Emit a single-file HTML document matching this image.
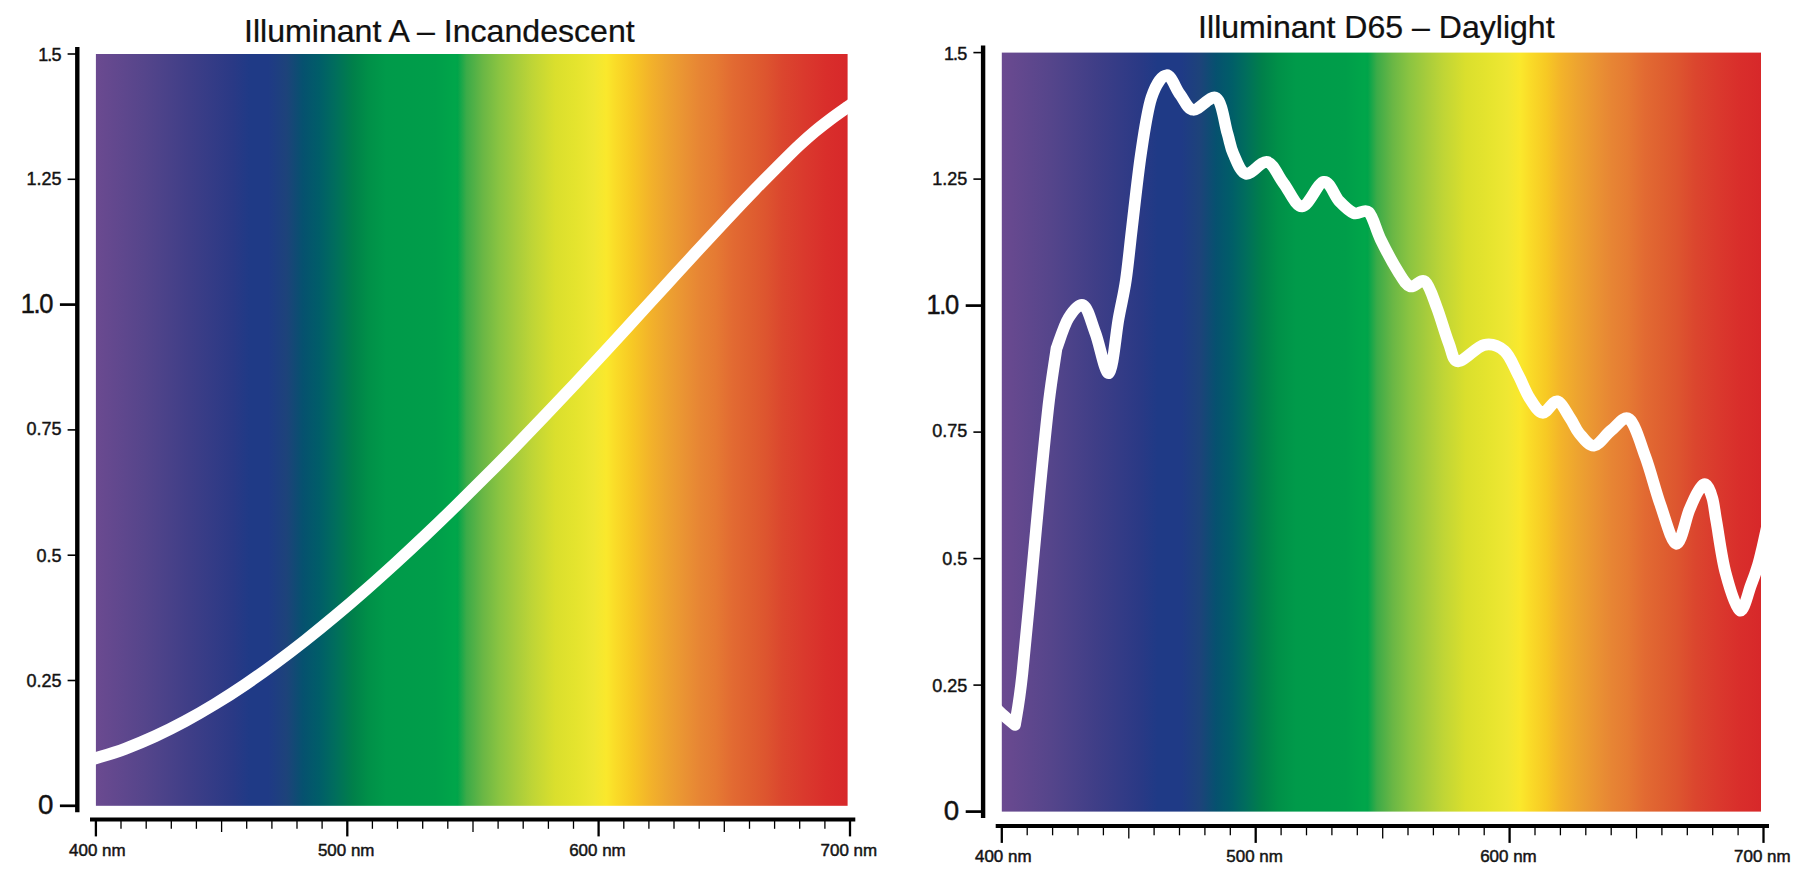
<!DOCTYPE html>
<html lang="en"><head><meta charset="utf-8"><title>Illuminant A and D65 spectra</title>
<style>html,body{margin:0;padding:0;background:#fff;}body{width:1813px;height:878px;overflow:hidden;}svg{display:block;}text{font-family:"Liberation Sans",sans-serif;fill:#111;}</style></head><body>
<svg width="1813" height="878" viewBox="0 0 1813 878">
<defs>
<linearGradient id="spec1" gradientUnits="userSpaceOnUse" x1="95.9" y1="0" x2="847.6" y2="0">
<stop offset="0.00%" stop-color="#6B4A90"/>
<stop offset="6.50%" stop-color="#55458B"/>
<stop offset="12.40%" stop-color="#3F3E87"/>
<stop offset="18.20%" stop-color="#2A3985"/>
<stop offset="20.50%" stop-color="#1F3A86"/>
<stop offset="22.90%" stop-color="#1F3A86"/>
<stop offset="25.40%" stop-color="#1D437A"/>
<stop offset="27.50%" stop-color="#06516F"/>
<stop offset="29.80%" stop-color="#005E68"/>
<stop offset="31.90%" stop-color="#006E5C"/>
<stop offset="34.20%" stop-color="#00804A"/>
<stop offset="36.30%" stop-color="#009048"/>
<stop offset="38.60%" stop-color="#009A4A"/>
<stop offset="45.20%" stop-color="#009E4A"/>
<stop offset="47.80%" stop-color="#00A64A"/>
<stop offset="48.10%" stop-color="#00A44A"/>
<stop offset="49.30%" stop-color="#3BAB48"/>
<stop offset="51.50%" stop-color="#6AB745"/>
<stop offset="53.70%" stop-color="#8BC441"/>
<stop offset="55.90%" stop-color="#A6CC3C"/>
<stop offset="58.10%" stop-color="#BFD536"/>
<stop offset="61.10%" stop-color="#DADF2D"/>
<stop offset="64.00%" stop-color="#E5E42E"/>
<stop offset="66.20%" stop-color="#EFE733"/>
<stop offset="67.90%" stop-color="#FAE82C"/>
<stop offset="69.10%" stop-color="#FADC28"/>
<stop offset="71.30%" stop-color="#F7C924"/>
<stop offset="73.70%" stop-color="#F3B32A"/>
<stop offset="75.90%" stop-color="#EDA330"/>
<stop offset="78.10%" stop-color="#EA9433"/>
<stop offset="80.30%" stop-color="#E78534"/>
<stop offset="82.50%" stop-color="#E57A33"/>
<stop offset="84.70%" stop-color="#E26A32"/>
<stop offset="86.90%" stop-color="#DF6030"/>
<stop offset="89.10%" stop-color="#DD552F"/>
<stop offset="91.30%" stop-color="#DB462E"/>
<stop offset="94.30%" stop-color="#DA392D"/>
<stop offset="97.20%" stop-color="#D92E2B"/>
<stop offset="100.00%" stop-color="#D7282A"/>
</linearGradient>
<linearGradient id="spec2" gradientUnits="userSpaceOnUse" x1="1001.8" y1="0" x2="1761.0" y2="0">
<stop offset="0.00%" stop-color="#6B4A90"/>
<stop offset="6.50%" stop-color="#55458B"/>
<stop offset="12.40%" stop-color="#3F3E87"/>
<stop offset="18.20%" stop-color="#2A3985"/>
<stop offset="20.50%" stop-color="#1F3A86"/>
<stop offset="23.60%" stop-color="#1F3A86"/>
<stop offset="26.10%" stop-color="#1D437A"/>
<stop offset="28.20%" stop-color="#06516F"/>
<stop offset="30.30%" stop-color="#005E68"/>
<stop offset="32.20%" stop-color="#006E5C"/>
<stop offset="34.30%" stop-color="#00804A"/>
<stop offset="36.40%" stop-color="#009048"/>
<stop offset="38.70%" stop-color="#009A4A"/>
<stop offset="45.30%" stop-color="#009E4A"/>
<stop offset="47.80%" stop-color="#00A64A"/>
<stop offset="48.20%" stop-color="#00A44A"/>
<stop offset="49.40%" stop-color="#3BAB48"/>
<stop offset="51.50%" stop-color="#6AB745"/>
<stop offset="53.70%" stop-color="#8BC441"/>
<stop offset="55.90%" stop-color="#A6CC3C"/>
<stop offset="58.10%" stop-color="#BFD536"/>
<stop offset="61.10%" stop-color="#DADF2D"/>
<stop offset="64.00%" stop-color="#E5E42E"/>
<stop offset="66.60%" stop-color="#EFE733"/>
<stop offset="68.30%" stop-color="#FAE82C"/>
<stop offset="69.50%" stop-color="#FADC28"/>
<stop offset="71.70%" stop-color="#F7C924"/>
<stop offset="73.70%" stop-color="#F3B32A"/>
<stop offset="75.90%" stop-color="#EDA330"/>
<stop offset="78.10%" stop-color="#EA9433"/>
<stop offset="80.30%" stop-color="#E78534"/>
<stop offset="82.50%" stop-color="#E57A33"/>
<stop offset="84.70%" stop-color="#E26A32"/>
<stop offset="86.90%" stop-color="#DF6030"/>
<stop offset="89.10%" stop-color="#DD552F"/>
<stop offset="91.30%" stop-color="#DB462E"/>
<stop offset="94.30%" stop-color="#DA392D"/>
<stop offset="97.20%" stop-color="#D92E2B"/>
<stop offset="100.00%" stop-color="#D7282A"/>
</linearGradient>
</defs>
<rect width="1813" height="878" fill="#fff"/>
<g>
<rect x="95.9" y="54.0" width="751.7" height="751.8" fill="url(#spec1)"/>
<path d="M84.0,761.3 C86.0,760.8 88.9,760.4 95.7,758.3 C102.5,756.2 115.1,752.5 125.0,748.8 C134.9,745.1 145.0,740.9 155.0,736.3 C165.0,731.7 175.0,726.7 185.0,721.3 C195.0,715.9 205.0,710.1 215.0,704.0 C225.0,697.9 235.0,691.5 245.0,684.7 C255.0,678.0 265.0,670.9 275.0,663.5 C285.0,656.1 295.0,648.5 305.0,640.6 C315.0,632.7 325.0,624.6 335.0,616.2 C345.0,607.9 355.0,599.3 365.0,590.5 C375.0,581.7 385.0,572.7 395.0,563.6 C405.0,554.5 415.0,545.2 425.0,535.7 C435.0,526.2 445.0,516.6 455.0,506.8 C465.0,497.0 475.0,487.1 485.0,477.1 C495.0,467.1 505.0,457.0 515.0,446.7 C525.0,436.4 535.0,426.0 545.0,415.5 C555.0,405.0 565.0,394.4 575.0,383.8 C585.0,373.2 595.0,362.4 605.0,351.6 C615.0,340.8 625.0,329.8 635.0,318.9 C645.0,308.0 655.0,297.0 665.0,286.1 C675.0,275.2 685.0,264.2 695.0,253.4 C705.0,242.6 715.0,231.8 725.0,221.1 C735.0,210.4 745.0,199.8 755.0,189.5 C765.0,179.2 777.5,166.7 785.0,159.2 C792.5,151.7 795.0,149.2 800.0,144.6 C805.0,140.0 810.0,135.6 815.0,131.4 C820.0,127.2 824.6,123.7 830.0,119.6 C835.4,115.5 842.9,110.3 847.6,107.0 C852.3,103.7 856.3,100.8 858.0,99.6" fill="none" stroke="#fff" stroke-width="12" stroke-linejoin="round" stroke-linecap="butt"/>
<line x1="77.3" y1="47.0" x2="77.3" y2="812.2" stroke="#000" stroke-width="4.4"/>
<line x1="67.6" y1="54.0" x2="77.3" y2="54.0" stroke="#000" stroke-width="1.6"/>
<text transform="matrix(0.5625 0 0 0.5531 38.20 61.12)" font-size="32" letter-spacing="-1.60" fill="#1a1a1a" stroke="#1a1a1a" stroke-width="0.80">1.5</text>
<line x1="67.6" y1="179.3" x2="77.3" y2="179.3" stroke="#000" stroke-width="1.6"/>
<text transform="matrix(0.5625 0 0 0.5531 26.50 185.41)" font-size="32" fill="#1a1a1a" stroke="#1a1a1a" stroke-width="0.80">1.25</text>
<line x1="59.9" y1="304.6" x2="77.3" y2="304.6" stroke="#000" stroke-width="2.7"/>
<text transform="matrix(0.7969 0 0 0.8719 20.78 313.33)" font-size="32" letter-spacing="-1.76" fill="#1a1a1a" stroke="#1a1a1a" stroke-width="0.56">1.0</text>
<line x1="67.6" y1="429.9" x2="77.3" y2="429.9" stroke="#000" stroke-width="1.6"/>
<text transform="matrix(0.5625 0 0 0.5531 26.50 434.91)" font-size="32" fill="#1a1a1a" stroke="#1a1a1a" stroke-width="0.80">0.75</text>
<line x1="67.6" y1="555.2" x2="77.3" y2="555.2" stroke="#000" stroke-width="1.6"/>
<text transform="matrix(0.5625 0 0 0.5531 36.40 561.81)" font-size="32" fill="#1a1a1a" stroke="#1a1a1a" stroke-width="0.80">0.5</text>
<line x1="67.6" y1="680.5" x2="77.3" y2="680.5" stroke="#000" stroke-width="1.6"/>
<text transform="matrix(0.5625 0 0 0.5531 26.50 687.41)" font-size="32" fill="#1a1a1a" stroke="#1a1a1a" stroke-width="0.80">0.25</text>
<line x1="59.9" y1="805.8" x2="77.3" y2="805.8" stroke="#000" stroke-width="2.7"/>
<text transform="matrix(0.8656 0 0 0.8719 38.00 814.43)" font-size="32" fill="#1a1a1a" stroke="#1a1a1a" stroke-width="0.52">0</text>
<line x1="90.0" y1="819.5" x2="855.3" y2="819.5" stroke="#000" stroke-width="4.1"/>
<line x1="95.9" y1="819.5" x2="95.9" y2="836.4" stroke="#000" stroke-width="2.3"/>
<text transform="matrix(0.5297 0 0 0.5188 69.12 855.60)" font-size="32" fill="#1a1a1a" stroke="#1a1a1a" stroke-width="0.94">400 nm</text>
<line x1="121.0" y1="819.5" x2="121.0" y2="828.8" stroke="#000" stroke-width="1.3"/>
<line x1="146.2" y1="819.5" x2="146.2" y2="828.8" stroke="#000" stroke-width="1.3"/>
<line x1="171.3" y1="819.5" x2="171.3" y2="828.8" stroke="#000" stroke-width="1.3"/>
<line x1="196.4" y1="819.5" x2="196.4" y2="828.8" stroke="#000" stroke-width="1.3"/>
<line x1="221.6" y1="819.5" x2="221.6" y2="832.0" stroke="#000" stroke-width="1.3"/>
<line x1="246.7" y1="819.5" x2="246.7" y2="828.8" stroke="#000" stroke-width="1.3"/>
<line x1="271.9" y1="819.5" x2="271.9" y2="828.8" stroke="#000" stroke-width="1.3"/>
<line x1="297.0" y1="819.5" x2="297.0" y2="828.8" stroke="#000" stroke-width="1.3"/>
<line x1="322.1" y1="819.5" x2="322.1" y2="828.8" stroke="#000" stroke-width="1.3"/>
<line x1="347.3" y1="819.5" x2="347.3" y2="836.4" stroke="#000" stroke-width="2.3"/>
<text transform="matrix(0.5297 0 0 0.5188 317.91 855.60)" font-size="32" fill="#1a1a1a" stroke="#1a1a1a" stroke-width="0.94">500 nm</text>
<line x1="372.4" y1="819.5" x2="372.4" y2="828.8" stroke="#000" stroke-width="1.3"/>
<line x1="397.5" y1="819.5" x2="397.5" y2="828.8" stroke="#000" stroke-width="1.3"/>
<line x1="422.7" y1="819.5" x2="422.7" y2="828.8" stroke="#000" stroke-width="1.3"/>
<line x1="447.8" y1="819.5" x2="447.8" y2="828.8" stroke="#000" stroke-width="1.3"/>
<line x1="473.0" y1="819.5" x2="473.0" y2="832.0" stroke="#000" stroke-width="1.3"/>
<line x1="498.1" y1="819.5" x2="498.1" y2="828.8" stroke="#000" stroke-width="1.3"/>
<line x1="523.2" y1="819.5" x2="523.2" y2="828.8" stroke="#000" stroke-width="1.3"/>
<line x1="548.4" y1="819.5" x2="548.4" y2="828.8" stroke="#000" stroke-width="1.3"/>
<line x1="573.5" y1="819.5" x2="573.5" y2="828.8" stroke="#000" stroke-width="1.3"/>
<line x1="598.6" y1="819.5" x2="598.6" y2="836.4" stroke="#000" stroke-width="2.3"/>
<text transform="matrix(0.5297 0 0 0.5188 569.20 855.60)" font-size="32" fill="#1a1a1a" stroke="#1a1a1a" stroke-width="0.94">600 nm</text>
<line x1="623.8" y1="819.5" x2="623.8" y2="828.8" stroke="#000" stroke-width="1.3"/>
<line x1="648.9" y1="819.5" x2="648.9" y2="828.8" stroke="#000" stroke-width="1.3"/>
<line x1="674.0" y1="819.5" x2="674.0" y2="828.8" stroke="#000" stroke-width="1.3"/>
<line x1="699.2" y1="819.5" x2="699.2" y2="828.8" stroke="#000" stroke-width="1.3"/>
<line x1="724.3" y1="819.5" x2="724.3" y2="832.0" stroke="#000" stroke-width="1.3"/>
<line x1="749.5" y1="819.5" x2="749.5" y2="828.8" stroke="#000" stroke-width="1.3"/>
<line x1="774.6" y1="819.5" x2="774.6" y2="828.8" stroke="#000" stroke-width="1.3"/>
<line x1="799.7" y1="819.5" x2="799.7" y2="828.8" stroke="#000" stroke-width="1.3"/>
<line x1="824.9" y1="819.5" x2="824.9" y2="828.8" stroke="#000" stroke-width="1.3"/>
<line x1="850.0" y1="819.5" x2="850.0" y2="836.4" stroke="#000" stroke-width="2.3"/>
<text transform="matrix(0.5297 0 0 0.5188 820.56 855.60)" font-size="32" fill="#1a1a1a" stroke="#1a1a1a" stroke-width="0.94">700 nm</text>
<text transform="matrix(1.0031 0 0 0.9719 244.01 42.40)" font-size="32" fill="#000" stroke="#000" stroke-width="0.25">Illuminant A – Incandescent</text>
</g>
<g>
<rect x="1001.8" y="52.6" width="759.2" height="759.0" fill="url(#spec2)"/>
<path d="M994.0,706.0 C995.3,707.3 998.5,710.8 1002.0,714.0 C1005.5,717.2 1012.8,723.2 1015.0,725.0 C1016.2,716.5 1018.8,706.7 1022.3,674.2 C1025.8,641.7 1032.8,563.6 1036.0,530.0 C1039.2,496.4 1039.3,494.2 1041.5,472.5 C1043.7,450.8 1046.6,420.7 1049.1,400.0 C1051.6,379.3 1055.3,357.1 1056.5,348.5 C1058.5,343.4 1064.0,325.2 1068.5,318.0 C1073.0,310.8 1079.0,302.8 1083.5,305.3 C1088.0,307.9 1091.2,322.0 1095.5,333.3 C1099.8,344.6 1105.2,375.5 1109.0,373.0 C1112.8,370.5 1115.8,334.0 1118.6,318.5 C1121.4,303.0 1123.7,295.1 1125.9,280.0 C1128.1,264.9 1129.5,248.8 1132.0,227.7 C1134.5,206.6 1137.8,175.3 1141.0,153.6 C1144.2,131.9 1147.2,110.5 1151.5,97.4 C1155.8,84.3 1161.8,75.7 1166.6,75.2 C1171.3,74.7 1175.5,88.6 1180.0,94.4 C1184.5,100.2 1187.2,109.2 1193.3,109.8 C1199.4,110.4 1210.7,94.2 1216.4,98.0 C1222.1,101.8 1224.5,123.6 1227.3,132.9 C1230.1,142.2 1230.2,146.8 1233.3,153.6 C1236.4,160.4 1240.3,172.4 1246.0,173.8 C1251.7,175.2 1261.0,160.3 1267.3,161.9 C1273.6,163.5 1277.8,175.9 1283.6,183.3 C1289.4,190.7 1295.5,206.7 1302.2,206.4 C1308.9,206.2 1317.6,182.7 1323.8,181.8 C1330.0,180.9 1334.2,195.9 1339.2,201.1 C1344.2,206.3 1349.1,211.3 1354.0,213.2 C1358.9,215.1 1364.3,207.9 1368.8,212.3 C1373.2,216.7 1375.8,229.6 1380.7,239.6 C1385.6,249.6 1393.5,264.3 1398.4,272.1 C1403.3,279.9 1405.8,284.8 1410.3,286.4 C1414.8,288.0 1420.7,278.1 1425.1,281.6 C1429.5,285.2 1433.0,297.4 1436.9,307.7 C1440.9,318.0 1445.2,334.3 1448.8,343.2 C1452.3,352.1 1452.3,361.0 1458.2,361.3 C1464.1,361.6 1476.3,346.7 1484.0,345.0 C1491.7,343.3 1498.8,346.1 1504.5,351.0 C1510.2,355.9 1513.8,366.7 1518.0,374.5 C1522.2,382.3 1525.4,391.6 1529.5,398.0 C1533.6,404.4 1538.0,412.2 1542.6,412.8 C1547.2,413.4 1552.6,400.4 1557.2,401.3 C1561.8,402.2 1566.6,413.1 1570.3,418.4 C1574.0,423.7 1575.2,428.8 1579.2,433.3 C1583.2,437.9 1588.7,446.2 1594.0,445.7 C1599.3,445.2 1605.4,434.7 1611.3,430.3 C1617.2,425.9 1623.6,414.8 1629.3,419.2 C1635.0,423.6 1640.3,442.8 1645.5,457.0 C1650.7,471.2 1655.2,489.9 1660.3,504.4 C1665.4,518.9 1671.4,542.8 1676.2,543.8 C1681.0,544.8 1685.6,519.0 1689.2,510.3 C1692.8,501.6 1695.3,495.8 1698.0,491.5 C1700.7,487.2 1703.2,483.3 1705.6,484.4 C1708.0,485.5 1710.5,491.7 1712.3,498.0 C1714.1,504.3 1714.3,509.7 1716.5,522.1 C1718.7,534.5 1721.6,557.8 1725.5,572.5 C1729.4,587.2 1735.5,608.3 1739.8,610.4 C1744.0,612.5 1748.0,592.6 1751.0,585.0 C1754.0,577.4 1756.1,571.3 1758.0,565.0 C1759.9,558.7 1760.8,554.2 1762.5,547.0 C1764.2,539.8 1767.1,526.2 1768.0,522.0" fill="none" stroke="#fff" stroke-width="11.7" stroke-linejoin="round" stroke-linecap="butt"/>
<line x1="983.1" y1="45.6" x2="983.1" y2="818.1" stroke="#000" stroke-width="4.4"/>
<line x1="973.4" y1="52.6" x2="983.1" y2="52.6" stroke="#000" stroke-width="1.6"/>
<text transform="matrix(0.5625 0 0 0.5531 944.00 59.72)" font-size="32" letter-spacing="-1.60" fill="#1a1a1a" stroke="#1a1a1a" stroke-width="0.80">1.5</text>
<line x1="973.4" y1="179.1" x2="983.1" y2="179.1" stroke="#000" stroke-width="1.6"/>
<text transform="matrix(0.5625 0 0 0.5531 932.30 185.21)" font-size="32" fill="#1a1a1a" stroke="#1a1a1a" stroke-width="0.80">1.25</text>
<line x1="965.7" y1="305.6" x2="983.1" y2="305.6" stroke="#000" stroke-width="2.7"/>
<text transform="matrix(0.7969 0 0 0.8719 926.58 314.33)" font-size="32" letter-spacing="-1.76" fill="#1a1a1a" stroke="#1a1a1a" stroke-width="0.56">1.0</text>
<line x1="973.4" y1="432.1" x2="983.1" y2="432.1" stroke="#000" stroke-width="1.6"/>
<text transform="matrix(0.5625 0 0 0.5531 932.30 437.11)" font-size="32" fill="#1a1a1a" stroke="#1a1a1a" stroke-width="0.80">0.75</text>
<line x1="973.4" y1="558.6" x2="983.1" y2="558.6" stroke="#000" stroke-width="1.6"/>
<text transform="matrix(0.5625 0 0 0.5531 942.20 565.21)" font-size="32" fill="#1a1a1a" stroke="#1a1a1a" stroke-width="0.80">0.5</text>
<line x1="973.4" y1="685.1" x2="983.1" y2="685.1" stroke="#000" stroke-width="1.6"/>
<text transform="matrix(0.5625 0 0 0.5531 932.30 692.01)" font-size="32" fill="#1a1a1a" stroke="#1a1a1a" stroke-width="0.80">0.25</text>
<line x1="965.7" y1="811.6" x2="983.1" y2="811.6" stroke="#000" stroke-width="2.7"/>
<text transform="matrix(0.8656 0 0 0.8719 943.80 820.23)" font-size="32" fill="#1a1a1a" stroke="#1a1a1a" stroke-width="0.52">0</text>
<line x1="995.7" y1="826.0" x2="1769.0" y2="826.0" stroke="#000" stroke-width="4.1"/>
<line x1="1001.8" y1="826.0" x2="1001.8" y2="842.9" stroke="#000" stroke-width="2.3"/>
<text transform="matrix(0.5297 0 0 0.5188 975.02 862.10)" font-size="32" fill="#1a1a1a" stroke="#1a1a1a" stroke-width="0.94">400 nm</text>
<line x1="1027.2" y1="826.0" x2="1027.2" y2="835.3" stroke="#000" stroke-width="1.3"/>
<line x1="1052.6" y1="826.0" x2="1052.6" y2="835.3" stroke="#000" stroke-width="1.3"/>
<line x1="1078.0" y1="826.0" x2="1078.0" y2="835.3" stroke="#000" stroke-width="1.3"/>
<line x1="1103.4" y1="826.0" x2="1103.4" y2="835.3" stroke="#000" stroke-width="1.3"/>
<line x1="1128.8" y1="826.0" x2="1128.8" y2="838.5" stroke="#000" stroke-width="1.3"/>
<line x1="1154.1" y1="826.0" x2="1154.1" y2="835.3" stroke="#000" stroke-width="1.3"/>
<line x1="1179.5" y1="826.0" x2="1179.5" y2="835.3" stroke="#000" stroke-width="1.3"/>
<line x1="1204.9" y1="826.0" x2="1204.9" y2="835.3" stroke="#000" stroke-width="1.3"/>
<line x1="1230.3" y1="826.0" x2="1230.3" y2="835.3" stroke="#000" stroke-width="1.3"/>
<line x1="1255.7" y1="826.0" x2="1255.7" y2="842.9" stroke="#000" stroke-width="2.3"/>
<text transform="matrix(0.5297 0 0 0.5188 1226.35 862.10)" font-size="32" fill="#1a1a1a" stroke="#1a1a1a" stroke-width="0.94">500 nm</text>
<line x1="1281.1" y1="826.0" x2="1281.1" y2="835.3" stroke="#000" stroke-width="1.3"/>
<line x1="1306.5" y1="826.0" x2="1306.5" y2="835.3" stroke="#000" stroke-width="1.3"/>
<line x1="1331.9" y1="826.0" x2="1331.9" y2="835.3" stroke="#000" stroke-width="1.3"/>
<line x1="1357.3" y1="826.0" x2="1357.3" y2="835.3" stroke="#000" stroke-width="1.3"/>
<line x1="1382.7" y1="826.0" x2="1382.7" y2="838.5" stroke="#000" stroke-width="1.3"/>
<line x1="1408.0" y1="826.0" x2="1408.0" y2="835.3" stroke="#000" stroke-width="1.3"/>
<line x1="1433.4" y1="826.0" x2="1433.4" y2="835.3" stroke="#000" stroke-width="1.3"/>
<line x1="1458.8" y1="826.0" x2="1458.8" y2="835.3" stroke="#000" stroke-width="1.3"/>
<line x1="1484.2" y1="826.0" x2="1484.2" y2="835.3" stroke="#000" stroke-width="1.3"/>
<line x1="1509.6" y1="826.0" x2="1509.6" y2="842.9" stroke="#000" stroke-width="2.3"/>
<text transform="matrix(0.5297 0 0 0.5188 1480.16 862.10)" font-size="32" fill="#1a1a1a" stroke="#1a1a1a" stroke-width="0.94">600 nm</text>
<line x1="1535.0" y1="826.0" x2="1535.0" y2="835.3" stroke="#000" stroke-width="1.3"/>
<line x1="1560.4" y1="826.0" x2="1560.4" y2="835.3" stroke="#000" stroke-width="1.3"/>
<line x1="1585.8" y1="826.0" x2="1585.8" y2="835.3" stroke="#000" stroke-width="1.3"/>
<line x1="1611.2" y1="826.0" x2="1611.2" y2="835.3" stroke="#000" stroke-width="1.3"/>
<line x1="1636.5" y1="826.0" x2="1636.5" y2="838.5" stroke="#000" stroke-width="1.3"/>
<line x1="1661.9" y1="826.0" x2="1661.9" y2="835.3" stroke="#000" stroke-width="1.3"/>
<line x1="1687.3" y1="826.0" x2="1687.3" y2="835.3" stroke="#000" stroke-width="1.3"/>
<line x1="1712.7" y1="826.0" x2="1712.7" y2="835.3" stroke="#000" stroke-width="1.3"/>
<line x1="1738.1" y1="826.0" x2="1738.1" y2="835.3" stroke="#000" stroke-width="1.3"/>
<line x1="1763.5" y1="826.0" x2="1763.5" y2="842.9" stroke="#000" stroke-width="2.3"/>
<text transform="matrix(0.5297 0 0 0.5188 1734.06 862.10)" font-size="32" fill="#1a1a1a" stroke="#1a1a1a" stroke-width="0.94">700 nm</text>
<text transform="matrix(1.0022 0 0 0.9625 1198.11 37.50)" font-size="32" fill="#000" stroke="#000" stroke-width="0.25">Illuminant D65 – Daylight</text>
</g>
</svg></body></html>
